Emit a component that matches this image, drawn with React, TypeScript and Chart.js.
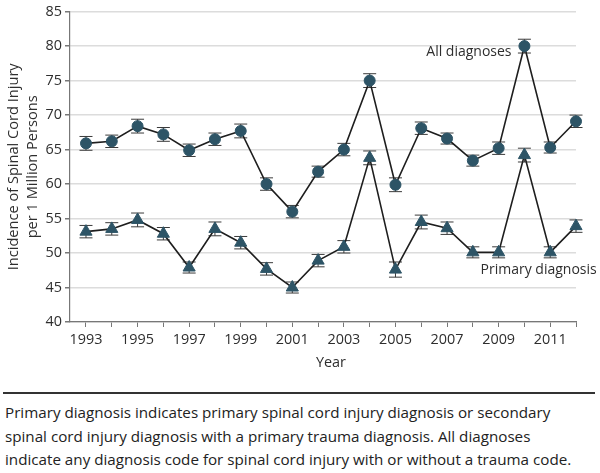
import { useEffect, useRef } from "react";
import { Chart, registerables } from "chart.js";

Chart.register(...registerables);

const years = [1993, 1994, 1995, 1996, 1997, 1998, 1999, 2000, 2001, 2002, 2003, 2004, 2005, 2006, 2007, 2008, 2009, 2010, 2011, 2012];
const allDiagnoses = [65.9, 66.2, 68.4, 67.2, 64.9, 66.5, 67.7, 60.0, 56.0, 61.8, 65.0, 75.0, 59.9, 68.1, 66.6, 63.4, 65.2, 80.0, 65.3, 69.1];
const allDiagnosesErr = [1.0, 0.9, 1.0, 1.0, 0.9, 0.9, 1.0, 0.9, 0.9, 0.8, 0.9, 1.0, 1.0, 0.9, 0.8, 0.8, 0.9, 1.0, 0.8, 0.9];
const primaryDiagnosis = [53.1, 53.5, 54.8, 52.8, 47.9, 53.5, 51.5, 47.7, 45.0, 48.9, 50.9, 63.8, 47.6, 54.5, 53.6, 50.1, 50.1, 64.2, 50.1, 53.9];
const primaryDiagnosisErr = [0.9, 0.9, 1.0, 0.9, 0.8, 1.0, 0.9, 0.9, 0.8, 0.9, 0.9, 1.0, 1.1, 1.0, 0.9, 0.8, 0.8, 1.0, 0.8, 0.9];
const yTicks = [40, 45, 50, 55, 60, 65, 70, 75, 80, 85];

const seriesLabels = ["All diagnoses", "Primary diagnosis"];
const yTitle = ["Incidence of Spinal Cord Injury", "per 1 Million Persons"];
const xTitle = "Year";
const caption = [
  "Primary diagnosis indicates primary spinal cord injury diagnosis or secondary",
  "spinal cord injury diagnosis with a primary trauma diagnosis. All diagnoses",
  "indicate any diagnosis code for spinal cord injury with or without a trauma code.",
];

const MARKER = "#2d5466";
const TEXT = "#2e2e2e";
const FONT = '"Open Sans", "Noto Sans", sans-serif';

const errorBarPlugin = {
  id: "errorBars",
  beforeDatasetsDraw(chart: any) {
    const { ctx, scales } = chart;
    const xs = scales.x;
    const ys = scales.y;
    const sets = [
      { v: allDiagnoses, e: allDiagnosesErr },
      { v: primaryDiagnosis, e: primaryDiagnosisErr },
    ];
    ctx.save();
    ctx.strokeStyle = "#3a3a3a";
    ctx.lineWidth = 1;
    sets.forEach((s) => {
      s.v.forEach((val, i) => {
        const px = xs.getPixelForValue(years[i]);
        const top = ys.getPixelForValue(val + s.e[i]);
        const bot = ys.getPixelForValue(val - s.e[i]);
        ctx.beginPath();
        ctx.moveTo(px, top);
        ctx.lineTo(px, bot);
        ctx.moveTo(px - 6.5, top);
        ctx.lineTo(px + 6.5, top);
        ctx.moveTo(px - 6.5, bot);
        ctx.lineTo(px + 6.5, bot);
        ctx.stroke();
      });
    });
    ctx.restore();
  },
};

const textPlugin = {
  id: "texts",
  afterDraw(chart: any) {
    const { ctx, chartArea, scales } = chart;
    const xs = scales.x;
    const ys = scales.y;
    ctx.save();
    ctx.fillStyle = TEXT;
    ctx.textBaseline = "middle";
    // y title
    ctx.font = `14.6px ${FONT}`;
    const cy = (chartArea.top + chartArea.bottom) / 2;
    ctx.save();
    ctx.translate(13.5, cy);
    ctx.rotate(-Math.PI / 2);
    ctx.textAlign = "center";
    ctx.fillText(yTitle[0], 0, 0);
    ctx.restore();
    ctx.save();
    ctx.translate(32.5, cy);
    ctx.rotate(-Math.PI / 2);
    ctx.textAlign = "center";
    ctx.fillText(yTitle[1], 0, 0);
    ctx.restore();
    // x title
    ctx.font = `14.4px ${FONT}`;
    ctx.textAlign = "center";
    ctx.fillText(xTitle, (chartArea.left + chartArea.right) / 2 + 8, 363);
    // series labels
    ctx.font = `14px ${FONT}`;
    ctx.textAlign = "right";
    ctx.fillText(seriesLabels[0], xs.getPixelForValue(2009.5), ys.getPixelForValue(79.1));
    ctx.textAlign = "left";
    ctx.fillText(seriesLabels[1], xs.getPixelForValue(2008.3), ys.getPixelForValue(47.6));
    ctx.restore();
  },
};

export default function App() {
  const ref = useRef<HTMLCanvasElement>(null);

  useEffect(() => {
    document.body.style.margin = "0";
    const canvas = ref.current;
    if (!canvas) return;
    const chart = new Chart(canvas, {
      type: "line",
      data: {
        datasets: [
          {
            label: seriesLabels[0],
            data: years.map((yr, i) => ({ x: yr, y: allDiagnoses[i] })),
            borderColor: "#1e1e1e",
            borderWidth: 1.6,
            pointStyle: "circle",
            pointRadius: 5.5,
            pointBackgroundColor: MARKER,
            pointBorderColor: MARKER,
            pointBorderWidth: 1,
            tension: 0,
            clip: false,
          },
          {
            label: seriesLabels[1],
            data: years.map((yr, i) => ({ x: yr, y: primaryDiagnosis[i] })),
            borderColor: "#1e1e1e",
            borderWidth: 1.6,
            pointStyle: "triangle",
            pointRadius: 7,
            pointBackgroundColor: MARKER,
            pointBorderColor: MARKER,
            pointBorderWidth: 1,
            tension: 0,
            clip: false,
          },
        ],
      },
      options: {
        animation: false,
        responsive: false,
        devicePixelRatio: 1,
        layout: { padding: { top: 10, right: 24, left: 0, bottom: 0 } },
        plugins: {
          legend: { display: false },
          tooltip: { enabled: false },
        },
        scales: {
          x: {
            type: "linear",
            min: 1992.38,
            max: 2012,
            afterFit: (s: any) => {
              s.height = 58;
            },
            afterBuildTicks: (s: any) => {
              s.ticks = years.map((v) => ({ value: v }));
            },
            ticks: {
              autoSkip: false,
              maxRotation: 0,
              padding: 4,
              color: TEXT,
              font: { family: FONT, size: 14.4 },
              callback: (v: any) => (Number(v) % 2 === 1 ? String(v) : ""),
            },
            grid: {
              drawOnChartArea: false,
              drawTicks: true,
              tickLength: 5,
              tickColor: "#777777",
            },
            border: { display: true, color: "#777777", width: 1.2 },
          },
          y: {
            min: 40,
            max: 85,
            afterFit: (s: any) => {
              s.width = 70;
            },
            afterBuildTicks: (s: any) => {
              s.ticks = yTicks.map((v) => ({ value: v }));
            },
            ticks: {
              padding: 3,
              color: TEXT,
              font: { family: FONT, size: 14.4 },
            },
            grid: {
              color: "#dcdcdc",
              lineWidth: 1.5,
              tickLength: 5,
              tickColor: "#777777",
            },
            border: { display: true, color: "#777777", width: 1.2 },
          },
        },
      },
      plugins: [errorBarPlugin, textPlugin],
    });
    return () => chart.destroy();
  }, []);

  return (
    <div style={{ width: 600, fontFamily: FONT }}>
      <canvas ref={ref} width={600} height={380} style={{ display: "block" }} />
      <div
        style={{
          marginTop: 12,
          marginLeft: 3,
          width: 590,
          borderTop: "2px solid #333",
          paddingTop: 7,
          paddingLeft: 2,
          color: "#222",
          fontSize: 15.2,
          lineHeight: "23.5px",
        }}
      >
        {caption.map((line, i) => (
          <div key={i} style={{ whiteSpace: "nowrap" }}>
            {line}
          </div>
        ))}
      </div>
    </div>
  );
}
